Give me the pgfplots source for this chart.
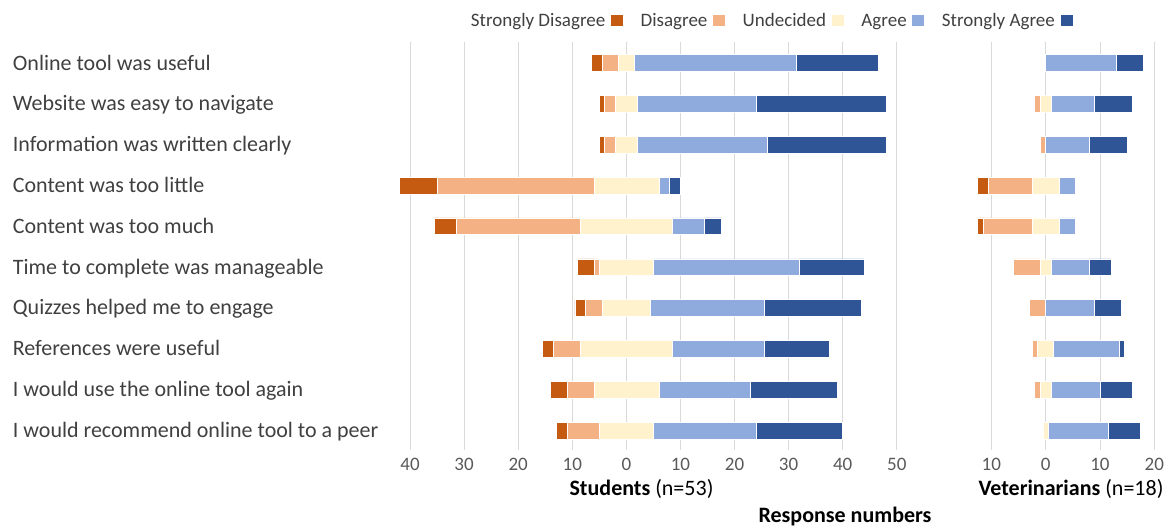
\documentclass[border=0pt]{standalone}
\usepackage{fontspec}
\setmainfont{Carlito}
\usepackage{pgfplots}
\usepackage{pgfplotstable}
\pgfplotsset{compat=1.18}

\definecolor{sd}{HTML}{C55A11}
\definecolor{dis}{HTML}{F4B183}
\definecolor{und}{HTML}{FFF2CC}
\definecolor{agr}{HTML}{8FAADC}
\definecolor{sa}{HTML}{2F5597}
\definecolor{gridgray}{HTML}{D9D9D9}
\definecolor{labelgray}{HTML}{404040}
\definecolor{tickgray}{HTML}{595959}

% y: 10 = first statement (top), 1 = last
% off: left end of the bar, so that Undecided sits astride zero
\pgfplotstableread{
y  off   SD D  U  A  SA
10 -6.5  2  3  3  30 15
9  -5    1  2  4  22 24
8  -5    1  2  4  24 22
7  -42   7  29 12 2  2
6  -35.5 4  23 17 6  3
5  -9    3  1  10 27 12
4  -9.5  2  3  9  21 18
3  -15.5 2  5  17 17 12
2  -14   3  5  12 17 16
1  -13   2  6  10 19 16
}\students

\pgfplotstableread{
y  off   SD D  U  A  SA
10 0     0  0  0  13 5
9  -2    0  1  2  8  7
8  -1    0  1  0  8  7
7  -12.5 2  8  5  3  0
6  -12.5 1  9  5  3  0
5  -6    0  5  2  7  4
4  -3    0  3  0  9  5
3  -2.5  0  1  3  12 1
2  -2    0  1  2  9  6
1  -0.5  0  0  1  11 6
}\vets

\newcommand{\tickfont}{\fontsize{19bp}{22bp}\selectfont}
\newcommand{\labfont}{\fontsize{22bp}{26bp}\selectfont}

\pgfplotsset{
  likert/.style={
    scale only axis,
    height=408.3bp,
    xbar stacked,
    stack negative=on previous,
    bar width=16.7bp,
    ymin=0.522, ymax=10.522,
    axis line style={draw=none},
    major tick length=0pt,
    xmajorgrids,
    grid style={gridgray, line width=0.9bp},
    xticklabel={\pgfmathparse{abs(\tick)}\pgfmathprintnumber{\pgfmathresult}},
    xticklabel style={font=\tickfont, text=tickgray, anchor=base, yshift=-20bp},
    /pgf/number format/assume math mode=true,
    every axis plot/.append style={draw=white, line width=0.6bp},
  },
}

\begin{document}
\begin{tikzpicture}
\useasboundingbox (0,0) rectangle (1171bp,-528bp);

\begin{axis}[
  likert,
  at={(393.8bp,-450bp)}, anchor=south west,
  width=513.8bp,
  xmin=-43, xmax=52,
  xtick={-40,-30,...,50},
  ytick={1,...,10},
  yticklabels={I would recommend online tool to a peer,
    I would use the online tool again,
    References were useful,
    Quizzes helped me to engage,
    Time to complete was manageable,
    Content was too much,
    Content was too little,
    Information was written clearly,
    Website was easy to navigate,
    Online tool was useful},
  yticklabel style={anchor=base west, inner sep=0pt, xshift=-381.1bp, yshift=-7bp,
    font=\labfont, text=labelgray},
  legend columns=5,
  legend plot pos=right,
  legend style={at={(0.1497,1.0507)}, anchor=west, draw=none, fill=none,
    font=\tickfont, text=labelgray, inner sep=0pt,
    nodes={inner sep=0pt},
    /tikz/every even column/.append style={column sep=17bp},
    /tikz/every odd column/.append style={column sep=4.7bp}},
  legend image code/.code={\path[#1] (0bp,-5.5bp) rectangle (13bp,6.5bp);},
]
\addplot[draw=none, fill=none, forget plot] table[x=off, y=y]{\students};
\addplot[fill=sd] table[x=SD, y=y]{\students};
\addlegendentry{Strongly Disagree}
\addplot[fill=dis] table[x=D, y=y]{\students};
\addlegendentry{Disagree}
\addplot[fill=und] table[x=U, y=y]{\students};
\addlegendentry{Undecided}
\addplot[fill=agr] table[x=A, y=y]{\students};
\addlegendentry{Agree}
\addplot[fill=sa] table[x=SA, y=y]{\students};
\addlegendentry{Strongly Agree}
\end{axis}

\begin{axis}[
  likert,
  at={(972.3bp,-450bp)}, anchor=south west,
  width=187.4bp,
  xmin=-13.5, xmax=21,
  xtick={-10,0,10,20},
  ytick=\empty,
]
\addplot[draw=none, fill=none] table[x=off, y=y]{\vets};
\addplot[fill=sd] table[x=SD, y=y]{\vets};
\addplot[fill=dis] table[x=D, y=y]{\vets};
\addplot[fill=und] table[x=U, y=y]{\vets};
\addplot[fill=agr] table[x=A, y=y]{\vets};
\addplot[fill=sa] table[x=SA, y=y]{\vets};
\end{axis}

\node[anchor=base, font=\labfont] at (641.5bp,-495bp) {\textbf{Students} (n=53)};
\node[anchor=base, font=\labfont] at (1071bp,-495bp) {\textbf{Veterinarians} (n=18)};
\node[anchor=base, font=\labfont] at (845bp,-522bp) {\textbf{Response numbers}};
\end{tikzpicture}
\end{document}
